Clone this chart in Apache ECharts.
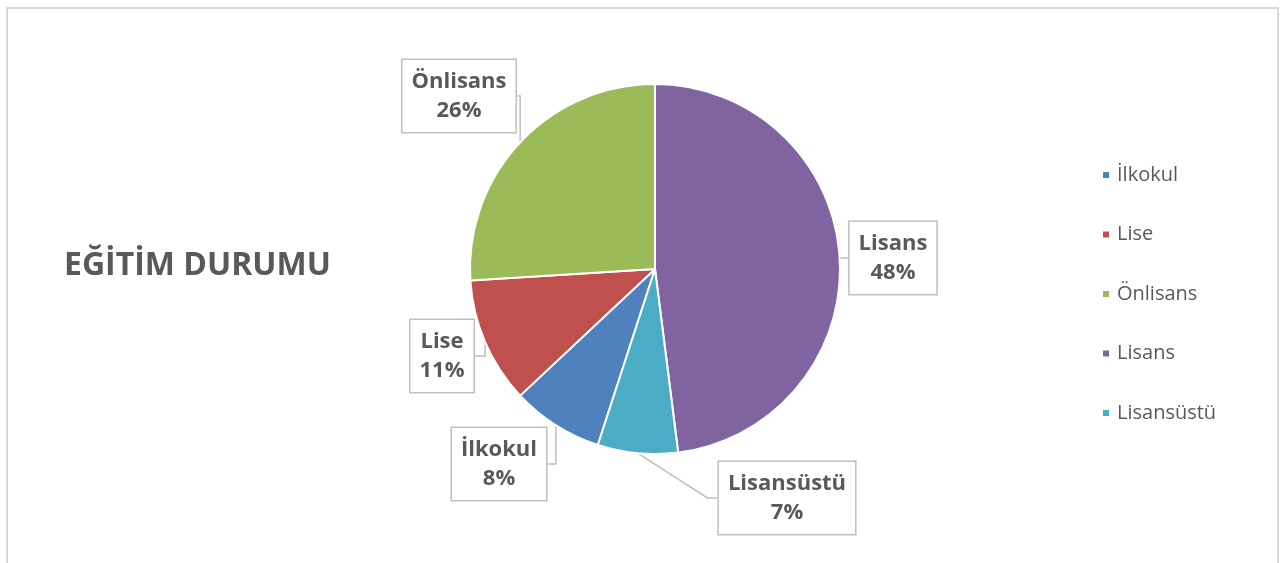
<!DOCTYPE html>
<html>
<head>
<meta charset="utf-8">
<script src="https://cdn.jsdelivr.net/npm/echarts@6/dist/echarts.min.js"></script>
<style>
  html, body { margin: 0; padding: 0; background: #fff; }
  #chart { width: 1286px; height: 563px; }
</style>
</head>
<body>
<div id="chart"></div>
<script>
const titleText = 'EĞİTİM DURUMU'
const categories = ['İlkokul', 'Lise', 'Önlisans', 'Lisans', 'Lisansüstü']
const values = [8, 11, 26, 48, 7]
const colors = ['#4F81BD', '#C0504D', '#9BBB59', '#8064A2', '#4BACC6']

// where the callout boxes sit (centre of each box)
const labelPos = [[499, 464], [442, 356], [459, 96], [893, 258], [787, 498]]

const font = '"Open Sans", Lato, "DejaVu Sans", sans-serif'
const textGray = '#595959'

const chart = echarts.init(document.getElementById('chart'))

chart.setOption({
  animation: false,
  color: colors,
  graphic: [
    {
      type: 'rect',
      shape: { x: 7, y: 8, width: 1271, height: 620 },
      style: { fill: 'none', stroke: '#d9d9d9', lineWidth: 2 },
      silent: true
    }
  ],
  title: {
    text: titleText,
    left: 59,
    top: 245,
    textStyle: {
      fontFamily: font,
      fontSize: 32,
      fontWeight: 'bold',
      color: textGray
    }
  },
  legend: {
    orient: 'vertical',
    left: 1096,
    top: 160,
    itemWidth: 8,
    itemHeight: 8,
    itemGap: 39.5,
    icon: 'rect',
    data: categories,
    textStyle: {
      fontFamily: font,
      fontSize: 20,
      color: textGray,
      padding: [0, 0, 0, 2]
    }
  },
  series: [
    {
      type: 'pie',
      center: [655, 269],
      radius: 185,
      // Lisans starts at 12 o'clock
      startAngle: 90 - (values[3] + values[4]) / 100 * 360 + 360,
      clockwise: true,
      percentPrecision: 0,
      data: categories.map((name, i) => ({ name, value: values[i] })),
      itemStyle: {
        borderColor: '#fff',
        borderWidth: 2
      },
      label: {
        show: true,
        position: 'outside',
        formatter: '{b}\n{d}%',
        fontFamily: font,
        fontSize: 22,
        fontWeight: 'bold',
        color: textGray,
        lineHeight: 29,
        align: 'center',
        backgroundColor: '#fff',
        borderColor: '#bfbfbf',
        borderWidth: 1.5,
        padding: [7, 9, 7, 9]
      },
      labelLine: {
        show: true,
        length: 10,
        length2: 10,
        lineStyle: { color: '#bfbfbf', width: 1.5 }
      },
      labelLayout: function (params) {
        const p = labelPos[params.dataIndex]
        return {
          x: p[0],
          y: p[1],
          align: 'center',
          verticalAlign: 'middle'
        }
      },
      emphasis: { disabled: true }
    }
  ]
})
</script>
</body>
</html>
